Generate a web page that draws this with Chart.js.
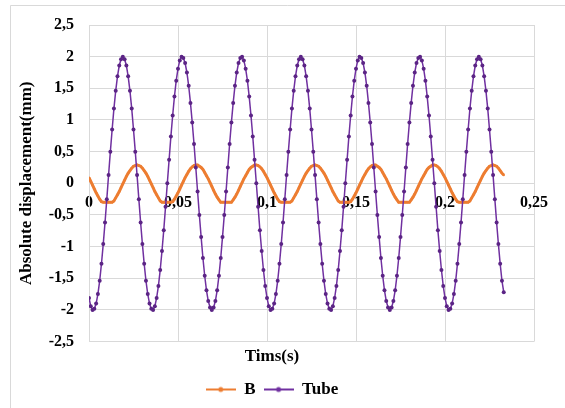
<!DOCTYPE html>
<html>
<head>
<meta charset="utf-8">
<script src="https://cdn.jsdelivr.net/npm/chart.js@4"></script>
<style>
  html, body { margin: 0; padding: 0; background: #fff; }
</style>
</head>
<body>
<canvas id="chart" width="565" height="408"></canvas>
<script>
// Time axis (s)
const times = [
  0, 0.001, 0.002, 0.003, 0.004, 0.005, 0.006, 0.007, 0.008, 0.009,
  0.010, 0.011, 0.012, 0.013, 0.014, 0.015, 0.016, 0.017, 0.018, 0.019,
  0.020, 0.021, 0.022, 0.023, 0.024, 0.025, 0.026, 0.027, 0.028, 0.029,
  0.030, 0.031, 0.032, 0.033, 0.034, 0.035, 0.036, 0.037, 0.038, 0.039,
  0.040, 0.041, 0.042, 0.043, 0.044, 0.045, 0.046, 0.047, 0.048, 0.049,
  0.050, 0.051, 0.052, 0.053, 0.054, 0.055, 0.056, 0.057, 0.058, 0.059,
  0.060, 0.061, 0.062, 0.063, 0.064, 0.065, 0.066, 0.067, 0.068, 0.069,
  0.070, 0.071, 0.072, 0.073, 0.074, 0.075, 0.076, 0.077, 0.078, 0.079,
  0.080, 0.081, 0.082, 0.083, 0.084, 0.085, 0.086, 0.087, 0.088, 0.089,
  0.090, 0.091, 0.092, 0.093, 0.094, 0.095, 0.096, 0.097, 0.098, 0.099,
  0.100, 0.101, 0.102, 0.103, 0.104, 0.105, 0.106, 0.107, 0.108, 0.109,
  0.110, 0.111, 0.112, 0.113, 0.114, 0.115, 0.116, 0.117, 0.118, 0.119,
  0.120, 0.121, 0.122, 0.123, 0.124, 0.125, 0.126, 0.127, 0.128, 0.129,
  0.130, 0.131, 0.132, 0.133, 0.134, 0.135, 0.136, 0.137, 0.138, 0.139,
  0.140, 0.141, 0.142, 0.143, 0.144, 0.145, 0.146, 0.147, 0.148, 0.149,
  0.150, 0.151, 0.152, 0.153, 0.154, 0.155, 0.156, 0.157, 0.158, 0.159,
  0.160, 0.161, 0.162, 0.163, 0.164, 0.165, 0.166, 0.167, 0.168, 0.169,
  0.170, 0.171, 0.172, 0.173, 0.174, 0.175, 0.176, 0.177, 0.178, 0.179,
  0.180, 0.181, 0.182, 0.183, 0.184, 0.185, 0.186, 0.187, 0.188, 0.189,
  0.190, 0.191, 0.192, 0.193, 0.194, 0.195, 0.196, 0.197, 0.198, 0.199,
  0.200, 0.201, 0.202, 0.203, 0.204, 0.205, 0.206, 0.207, 0.208, 0.209,
  0.210, 0.211, 0.212, 0.213, 0.214, 0.215, 0.216, 0.217, 0.218, 0.219,
  0.220, 0.221, 0.222, 0.223, 0.224, 0.225, 0.226, 0.227, 0.228, 0.229,
  0.230, 0.231, 0.232, 0.233
];

// Series B (mm)
const bValues = [
  0.09, 0.03, -0.03, -0.09, -0.15, -0.20, -0.25, -0.29, -0.30, -0.30,
  -0.30, -0.30, -0.30, -0.30, -0.28, -0.23, -0.18, -0.13, -0.07, -0.01,
  0.05, 0.11, 0.16, 0.20, 0.24, 0.27, 0.28, 0.29, 0.28, 0.27,
  0.24, 0.20, 0.16, 0.11, 0.05, -0.01, -0.07, -0.13, -0.18, -0.23,
  -0.28, -0.30, -0.30, -0.30, -0.30, -0.30, -0.30, -0.29, -0.25, -0.20,
  -0.15, -0.09, -0.03, 0.03, 0.09, 0.14, 0.19, 0.23, 0.26, 0.28,
  0.29, 0.29, 0.27, 0.25, 0.22, 0.17, 0.12, 0.07, 0.01, -0.05,
  -0.11, -0.17, -0.22, -0.26, -0.30, -0.30, -0.30, -0.30, -0.30, -0.30,
  -0.30, -0.26, -0.22, -0.17, -0.11, -0.05, 0.01, 0.07, 0.12, 0.17,
  0.22, 0.25, 0.27, 0.29, 0.29, 0.28, 0.26, 0.23, 0.19, 0.14,
  0.09, 0.03, -0.03, -0.09, -0.15, -0.20, -0.25, -0.29, -0.30, -0.30,
  -0.30, -0.30, -0.30, -0.30, -0.28, -0.23, -0.18, -0.13, -0.07, -0.01,
  0.05, 0.11, 0.16, 0.20, 0.24, 0.27, 0.28, 0.29, 0.28, 0.27,
  0.24, 0.20, 0.16, 0.11, 0.05, -0.01, -0.07, -0.13, -0.18, -0.23,
  -0.28, -0.30, -0.30, -0.30, -0.30, -0.30, -0.30, -0.29, -0.25, -0.20,
  -0.15, -0.09, -0.03, 0.03, 0.09, 0.14, 0.19, 0.23, 0.26, 0.28,
  0.29, 0.29, 0.27, 0.25, 0.22, 0.17, 0.12, 0.07, 0.01, -0.05,
  -0.11, -0.17, -0.22, -0.26, -0.30, -0.30, -0.30, -0.30, -0.30, -0.30,
  -0.30, -0.26, -0.22, -0.17, -0.11, -0.05, 0.01, 0.07, 0.12, 0.17,
  0.22, 0.25, 0.27, 0.29, 0.29, 0.28, 0.26, 0.23, 0.19, 0.14,
  0.09, 0.03, -0.03, -0.09, -0.15, -0.20, -0.25, -0.29, -0.30, -0.30,
  -0.30, -0.30, -0.30, -0.30, -0.28, -0.23, -0.18, -0.13, -0.07, -0.01,
  0.05, 0.11, 0.16, 0.20, 0.24, 0.27, 0.28, 0.29, 0.28, 0.27,
  0.24, 0.20, 0.16, 0.13
];

// Series Tube (mm)
const tubeValues = [
  -1.81, -1.94, -2.00, -1.98, -1.90, -1.75, -1.54, -1.27, -0.96, -0.62,
  -0.25, 0.13, 0.50, 0.85, 1.18, 1.46, 1.69, 1.86, 1.96, 2.00,
  1.96, 1.86, 1.69, 1.46, 1.18, 0.85, 0.50, 0.13, -0.25, -0.62,
  -0.96, -1.27, -1.54, -1.75, -1.90, -1.98, -2.00, -1.94, -1.81, -1.62,
  -1.37, -1.07, -0.74, -0.37, 0.00, 0.37, 0.74, 1.07, 1.37, 1.62,
  1.81, 1.94, 2.00, 1.98, 1.90, 1.75, 1.54, 1.27, 0.96, 0.62,
  0.25, -0.13, -0.50, -0.85, -1.18, -1.46, -1.69, -1.86, -1.96, -2.00,
  -1.96, -1.86, -1.69, -1.46, -1.18, -0.85, -0.50, -0.13, 0.25, 0.62,
  0.96, 1.27, 1.54, 1.75, 1.90, 1.98, 2.00, 1.94, 1.81, 1.62,
  1.37, 1.07, 0.74, 0.37, 0.00, -0.37, -0.74, -1.07, -1.37, -1.62,
  -1.81, -1.94, -2.00, -1.98, -1.90, -1.75, -1.54, -1.27, -0.96, -0.62,
  -0.25, 0.13, 0.50, 0.85, 1.18, 1.46, 1.69, 1.86, 1.96, 2.00,
  1.96, 1.86, 1.69, 1.46, 1.18, 0.85, 0.50, 0.13, -0.25, -0.62,
  -0.96, -1.27, -1.54, -1.75, -1.90, -1.98, -2.00, -1.94, -1.81, -1.62,
  -1.37, -1.07, -0.74, -0.37, 0.00, 0.37, 0.74, 1.07, 1.37, 1.62,
  1.81, 1.94, 2.00, 1.98, 1.90, 1.75, 1.54, 1.27, 0.96, 0.62,
  0.25, -0.13, -0.50, -0.85, -1.18, -1.46, -1.69, -1.86, -1.96, -2.00,
  -1.96, -1.86, -1.69, -1.46, -1.18, -0.85, -0.50, -0.13, 0.25, 0.62,
  0.96, 1.27, 1.54, 1.75, 1.90, 1.98, 2.00, 1.94, 1.81, 1.62,
  1.37, 1.07, 0.74, 0.37, 0.00, -0.37, -0.74, -1.07, -1.37, -1.62,
  -1.81, -1.94, -2.00, -1.98, -1.90, -1.75, -1.54, -1.27, -0.96, -0.62,
  -0.25, 0.13, 0.50, 0.85, 1.18, 1.46, 1.69, 1.86, 1.96, 2.00,
  1.96, 1.86, 1.69, 1.46, 1.18, 0.85, 0.50, 0.13, -0.25, -0.62,
  -0.96, -1.27, -1.54, -1.72
];

const xTicks = [0, 0.05, 0.1, 0.15, 0.2, 0.25];
const yTicks = [-2.5, -2, -1.5, -1, -0.5, 0, 0.5, 1, 1.5, 2, 2.5];

const orange = "#ED7D31";
const purple = "#7030A0";
const gridColor = "#d9d9d9";
const serif = "'Liberation Serif', 'Times New Roman', serif";

// numbers with a decimal comma, like the original
function fmt(v) {
    return String(Math.round(v * 100) / 100).replace(".", ",");
}

// little line + dot swatch for the legend
function swatch(color) {
    const c = document.createElement("canvas");
    c.width = 30;
    c.height = 8;
    const g = c.getContext("2d");
    g.strokeStyle = color;
    g.lineWidth = 2;
    g.beginPath();
    g.moveTo(0, 4);
    g.lineTo(30, 4);
    g.stroke();
    g.fillStyle = color;
    g.beginPath();
    g.arc(15, 4, 2.5, 0, Math.PI * 2);
    g.fill();
    return c;
}
const swatches = [swatch(orange), swatch(purple)];

// white background and light outer frame
const frame = {
    id: "frame",
    beforeDraw(chart) {
        const c = chart.ctx;
        c.save();
        c.fillStyle = "#fff";
        c.fillRect(0, 0, chart.width, chart.height);
        c.strokeStyle = gridColor;
        c.lineWidth = 1;
        c.beginPath();
        c.moveTo(10.5, chart.height);
        c.lineTo(10.5, 5.5);
        c.lineTo(chart.width, 5.5);
        c.stroke();
        c.restore();
    }
};

const ctx = document.getElementById("chart").getContext("2d");
const chart = new Chart(ctx, {
    type: "line",
    data: {
        datasets: [
            {
                label: "B",
                data: times.map((t, i) => ({ x: t, y: bValues[i] })),
                borderColor: orange,
                backgroundColor: orange,
                borderWidth: 3,
                pointRadius: 1.2,
                pointBorderWidth: 0,
                tension: 0,
                order: 1
            },
            {
                label: "Tube",
                data: times.map((t, i) => ({ x: t, y: tubeValues[i] })),
                borderColor: purple,
                backgroundColor: "#5b2485",
                borderWidth: 1.5,
                pointRadius: 2,
                pointBorderWidth: 0,
                tension: 0,
                order: 0
            }
        ]
    },
    options: {
        responsive: false,
        animation: false,
        layout: {
            padding: { left: 10, right: 31, top: 25, bottom: 0 }
        },
        scales: {
            x: {
                type: "linear",
                position: { y: 0 },
                min: 0,
                max: 0.25,
                afterBuildTicks(scale) {
                    scale.ticks = xTicks.map(v => ({ value: v }));
                },
                ticks: {
                    color: "#000",
                    padding: 10,
                    maxRotation: 0,
                    font: { family: serif, size: 16, weight: "bold" },
                    callback: v => fmt(v)
                },
                grid: { color: gridColor, drawTicks: false },
                border: { display: false }
            },
            y: {
                type: "linear",
                min: -2.5,
                max: 2.5,
                afterBuildTicks(scale) {
                    scale.ticks = yTicks.map(v => ({ value: v }));
                },
                afterFit(scale) {
                    scale.width = 79;
                },
                ticks: {
                    color: "#000",
                    padding: 15,
                    font: { family: serif, size: 16, weight: "bold" },
                    callback: v => fmt(v)
                },
                grid: { color: gridColor, drawTicks: false },
                border: { color: gridColor },
                title: {
                    display: true,
                    text: "Absolute displacement(mm)",
                    color: "#000",
                    font: { family: serif, size: 17, weight: "bold" },
                    padding: { top: 6, bottom: 0 }
                }
            }
        },
        plugins: {
            title: {
                display: true,
                position: "bottom",
                weight: 500,
                text: "Tims(s)",
                color: "#000",
                font: { family: serif, size: 17, weight: "bold" },
                padding: { top: 5, bottom: 6 }
            },
            legend: {
                position: "bottom",
                labels: {
                    color: "#000",
                    font: { family: serif, size: 17, weight: "bold" },
                    usePointStyle: true,
                    pointStyleWidth: 30,
                    padding: 8,
                    sort: (a, b) => a.datasetIndex - b.datasetIndex,
                    generateLabels(chart) {
                        const items = Chart.defaults.plugins.legend.labels.generateLabels(chart);
                        items.forEach(it => { it.pointStyle = swatches[it.datasetIndex]; });
                        return items;
                    }
                }
            },
            tooltip: { enabled: false }
        }
    },
    plugins: [frame]
});
</script>
</body>
</html>
